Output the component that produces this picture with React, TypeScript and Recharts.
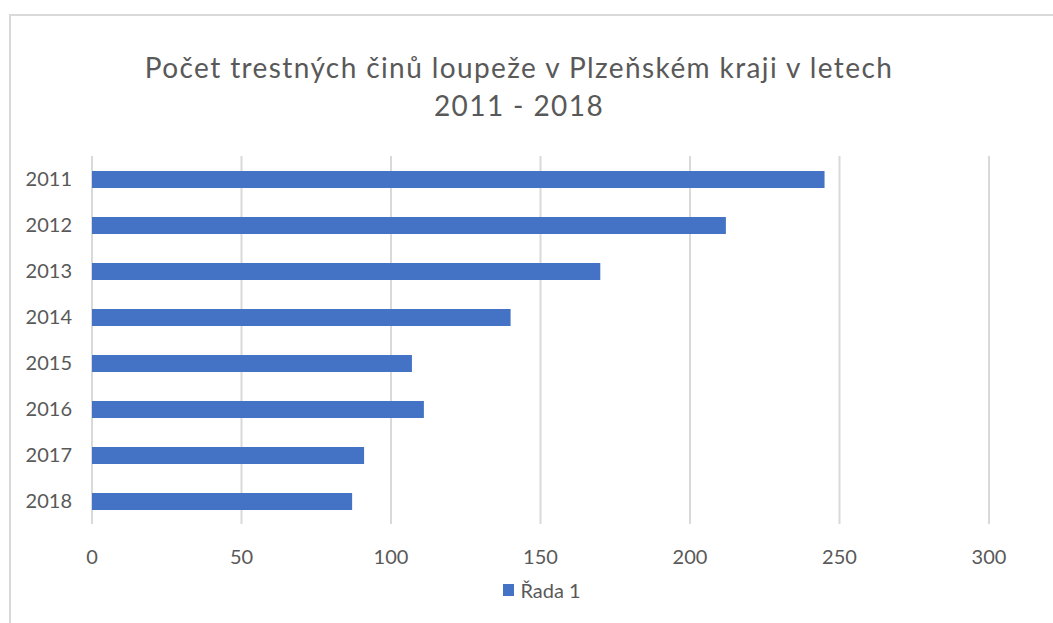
import React from 'react';
import { BarChart, Bar, XAxis, YAxis, CartesianGrid, Legend } from 'recharts';

const years = ['2011', '2012', '2013', '2014', '2015', '2016', '2017', '2018'];
const robberies = [245, 212, 170, 140, 107, 111, 91, 87];
const xTicks = [0, 50, 100, 150, 200, 250, 300];

const seriesName = 'Řada 1';
const titleLines = ['Počet trestných činů loupeže v Plzeňském kraji v letech', '2011 - 2018'];

const data = years.map((year, i) => ({ year, value: robberies[i] }));

const FONT = 'Lato, "Open Sans", sans-serif';
const TEXT = '#595959';
const BAR = '#4472C4';

const LegendBox = () => (
  <div style={{ display: 'flex', justifyContent: 'center', alignItems: 'center', height: 24, fontFamily: FONT, fontSize: 20, color: TEXT }}>
    <span style={{ display: 'inline-block', width: 11, height: 12, background: BAR, marginRight: 6 }} />
    <span>{seriesName}</span>
  </div>
);

export default function App() {
  return (
    <div style={{ position: 'fixed', left: 0, top: 0, width: 1053, height: 623, overflow: 'hidden', background: '#fff' }}>
      {/* chart frame, cut off at right and bottom like the screenshot */}
      <div style={{ position: 'absolute', left: 9, top: 14, width: 1100, height: 700, border: '2px solid #d9d9d9' }} />
      <div style={{ position: 'absolute', left: 0, top: 0, width: 1038, textAlign: 'center', fontFamily: FONT, fontSize: 28, letterSpacing: 1.4, color: TEXT, lineHeight: '38px', paddingTop: 48 }}>
        {titleLines.map((t) => (
          <div key={t}>{t}</div>
        ))}
      </div>
      <div style={{ position: 'absolute', left: 0, top: 0 }}>
        <BarChart
          width={1053}
          height={623}
          data={data}
          layout="vertical"
          margin={{ top: 156, right: 64, left: 32, bottom: 21 }}
        >
          <CartesianGrid horizontal={false} stroke="#d9d9d9" strokeWidth={2} />
          <XAxis
            type="number"
            domain={[0, 300]}
            ticks={xTicks}
            axisLine={false}
            tickLine={false}
            tickSize={0}
            tickMargin={26}
            height={54}
            tick={{ fill: TEXT, fontSize: 20, fontFamily: FONT }}
          />
          <YAxis
            type="category"
            dataKey="year"
            width={60}
            axisLine={false}
            tickLine={false}
            tickSize={0}
            tickMargin={20}
            tick={{ fill: TEXT, fontSize: 20, fontFamily: FONT }}
          />
          <Legend verticalAlign="bottom" wrapperStyle={{ left: 0, width: 1084 }} content={<LegendBox />} />
          <Bar dataKey="value" name={seriesName} fill={BAR} barSize={17} isAnimationActive={false} />
        </BarChart>
      </div>
    </div>
  );
}
